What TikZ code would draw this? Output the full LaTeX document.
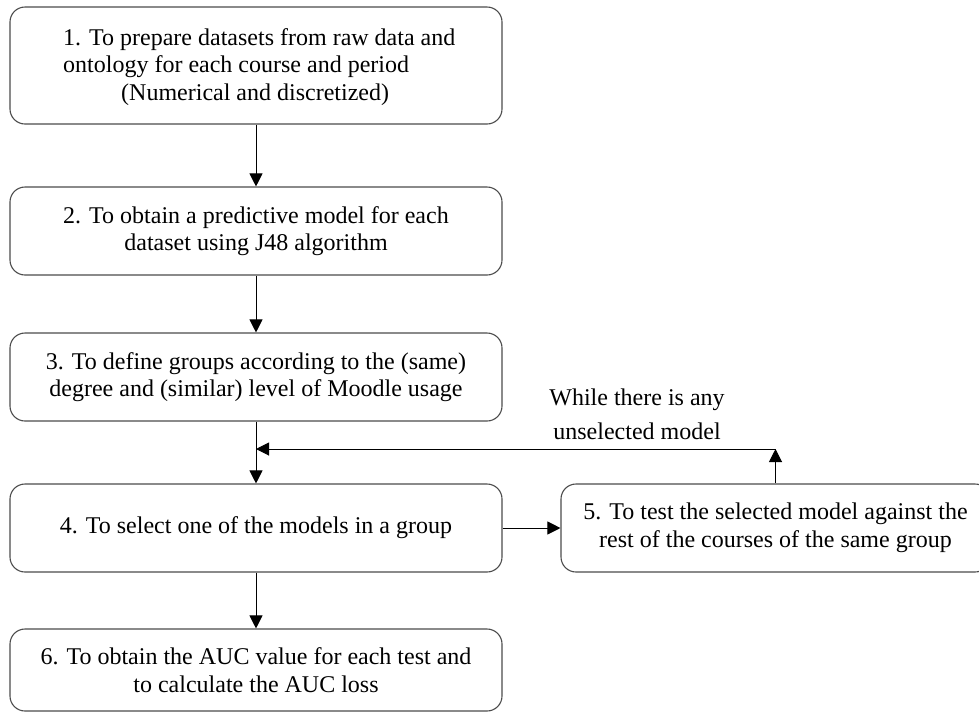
\documentclass[tikz,border=0pt]{standalone}
\usepackage{fontspec}
\setmainfont{Liberation Serif}
\usetikzlibrary{arrows.meta}
\begin{document}
\begin{tikzpicture}[x=1pt,y=-1pt,
  stepbox/.style={draw=black!70,line width=1.1pt,rounded corners=15pt,inner sep=0pt,align=center,
    font=\fontsize{24}{27.5}\selectfont},
  arr/.style={line width=1pt,-{Triangle[width=13pt,length=13pt]}},
  lbl/.style={align=center,font=\fontsize{24}{34}\selectfont,inner sep=0pt}]
\useasboundingbox (0,0) rectangle (979,713);
\node[stepbox,minimum width=492pt,minimum height=117pt] (b1) at (256,65.5) {};
\node[align=left,inner sep=0pt,font=\fontsize{24}{27.5}\selectfont,anchor=north west] (t1) at (63,28)
  {1. To prepare datasets from raw data and\\ontology for each course and period\\\hspace*{58pt}(Numerical and discretized)};
\node[stepbox,minimum width=492pt,minimum height=88pt] (b2) at (256,231)
  {2. To obtain a predictive model for each\\dataset using J48 algorithm};
\node[stepbox,minimum width=492pt,minimum height=88pt] (b3) at (256,377)
  {3. To define groups according to the (same)\\degree and (similar) level of Moodle usage};
\node[stepbox,minimum width=492pt,minimum height=88pt] (b4) at (256,528)
  {4. To select one of the models in a group};
\node[stepbox,minimum width=429pt,minimum height=88pt] (b5) at (775.5,528)
  {5. To test the selected model against the\\rest of the courses of the same group};
\node[stepbox,minimum width=492pt,minimum height=82pt] (b6) at (256,670)
  {6. To obtain the AUC value for each test and\\to calculate the AUC loss};
\node[lbl] (lab) at (637,414) {While there is any\\unselected model};
\coordinate (loop) at (775.5,449);
\coordinate (join) at (256,449);
\draw[arr] (b1.south) -- (b2.north);
\draw[arr] (b2.south) -- (b3.north);
\draw[arr] (b3.south) -- (b4.north);
\draw[arr] (b4.east) -- (b5.west);
\draw[arr] (b5.north) -- (loop);
\draw[arr] (loop) -- (join);
\draw[arr] (b4.south) -- (b6.north);
\end{tikzpicture}
\end{document}
